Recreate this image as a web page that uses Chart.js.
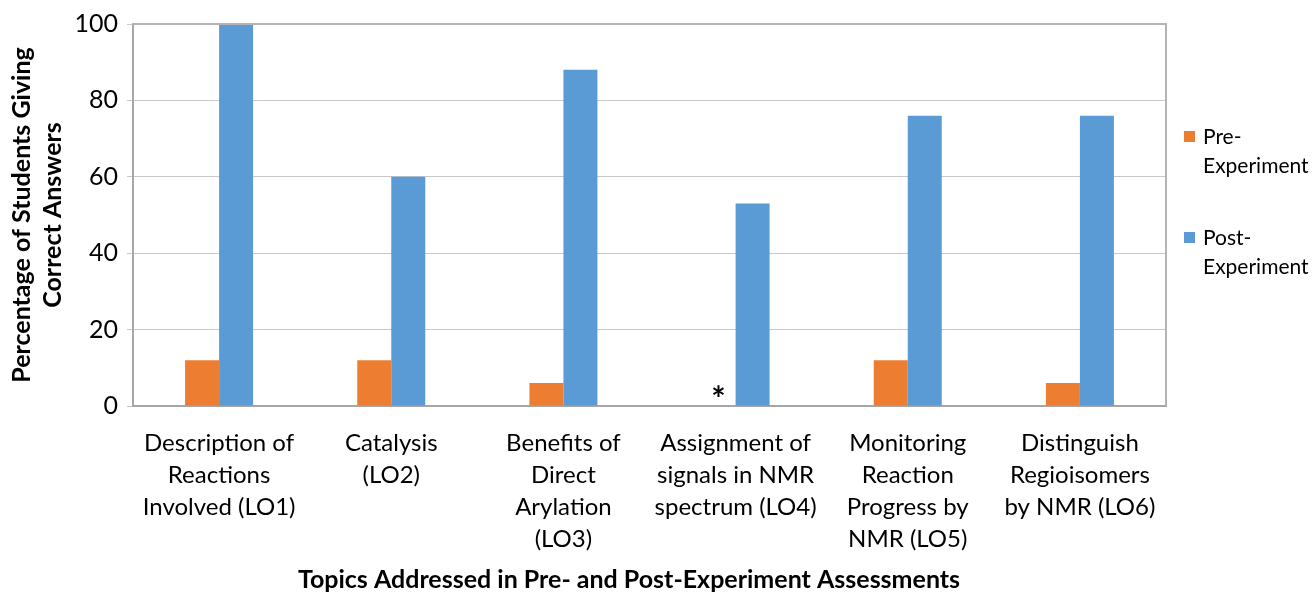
<!DOCTYPE html>
<html>
<head>
<meta charset="utf-8">
<script src="https://cdn.jsdelivr.net/npm/chart.js@4.4.1/dist/chart.umd.min.js"></script>
<style>
  html, body { margin: 0; padding: 0; background: #fff; }
  #wrap { width: 1312px; height: 592px; }
</style>
</head>
<body>
<div id="wrap"><canvas id="chart" width="1312" height="592"></canvas></div>
<script>
const topics = [
    ['Description of', 'Reactions', 'Involved (LO1)'],
    ['Catalysis', '(LO2)'],
    ['Benefits of', 'Direct', 'Arylation', '(LO3)'],
    ['Assignment of', 'signals in NMR', 'spectrum (LO4)'],
    ['Monitoring', 'Reaction', 'Progress by', 'NMR (LO5)'],
    ['Distinguish', 'Regioisomers', 'by NMR (LO6)'],
];
const preExperiment = [12, 12, 6, 0, 12, 6];
const postExperiment = [100, 60, 88, 53, 76, 76];
const seriesNames = [['Pre-', 'Experiment'], ['Post-', 'Experiment']];
const yTicks = [0, 20, 40, 60, 80, 100];
const xTitle = 'Topics Addressed in Pre- and Post-Experiment Assessments';
// LO4 pre-experiment has no answers, marked with an asterisk
const noDataMark = { index: 3, text: '*' };

const FONT = 'Lato, "Open Sans", sans-serif';
const ORANGE = '#ED7D31';
const BLUE = '#5B9BD5';

const extras = {
    id: 'extras',
    afterDraw(chart) {
        const ctx = chart.ctx;
        const area = chart.chartArea;
        ctx.save();
        // box around plot area (top + right)
        ctx.strokeStyle = '#b3b3b3';
        ctx.lineWidth = 2;
        ctx.beginPath();
        ctx.moveTo(area.left, area.top);
        ctx.lineTo(area.right, area.top);
        ctx.lineTo(area.right, area.bottom);
        ctx.stroke();

        // asterisk
        const bar = chart.getDatasetMeta(0).data[noDataMark.index];
        ctx.fillStyle = '#000';
        ctx.font = 'bold 34px ' + FONT;
        ctx.textAlign = 'center';
        ctx.textBaseline = 'middle';
        ctx.fillText(noDataMark.text, bar.x, area.bottom - 6);

        // x axis title (sits a little left of the plot centre)
        ctx.font = 'bold 25px ' + FONT;
        ctx.fillText(xTitle, 629, 580);

        // legend
        const colors = [ORANGE, BLUE];
        const tops = [131, 232];
        ctx.font = '21px ' + FONT;
        ctx.textAlign = 'left';
        seriesNames.forEach((lines, i) => {
            ctx.fillStyle = colors[i];
            ctx.fillRect(area.right + 18, tops[i], 11, 11);
            ctx.fillStyle = '#000';
            lines.forEach((ln, j) => {
                ctx.fillText(ln, area.right + 37, tops[i] + 6 + j * 29);
            });
        });
        ctx.restore();
    }
};

new Chart(document.getElementById('chart'), {
    type: 'bar',
    data: {
        labels: topics,
        datasets: [
            { label: 'Pre-Experiment', data: preExperiment, backgroundColor: ORANGE },
            { label: 'Post-Experiment', data: postExperiment, backgroundColor: BLUE },
        ]
    },
    options: {
        responsive: false,
        animation: false,
        layout: { padding: { top: 23, right: 146, left: 0, bottom: 0 } },
        datasets: { bar: { barPercentage: 1, categoryPercentage: 0.395 } },
        scales: {
            x: {
                grid: { display: false },
                border: { display: true, color: '#a6a6a6', width: 2 },
                ticks: {
                    color: '#000',
                    font: { family: FONT, size: 24, lineHeight: 1.34 },
                    padding: 13,
                    maxRotation: 0,
                    autoSkip: false,
                },
                afterFit: (s) => { s.height = 186; },
            },
            y: {
                min: 0,
                max: 100,
                afterBuildTicks: (s) => { s.ticks = yTicks.map(v => ({ value: v })); },
                grid: { color: '#c8c8c8', lineWidth: 1, tickLength: 6 },
                border: { display: true, color: '#a6a6a6', width: 2 },
                ticks: {
                    color: '#000',
                    font: { family: FONT, size: 25 },
                    padding: 9,
                },
                title: {
                    display: true,
                    text: ['Percentage of Students Giving', 'Correct Answers'],
                    color: '#000',
                    font: { family: FONT, size: 25, weight: 'bold', lineHeight: 1.22 },
                    padding: { top: 7, bottom: 0 },
                },
                afterFit: (s) => { s.width = 133; },
            }
        },
        plugins: {
            legend: { display: false },
            tooltip: { enabled: false },
        }
    },
    plugins: [extras]
});
</script>
</body>
</html>
